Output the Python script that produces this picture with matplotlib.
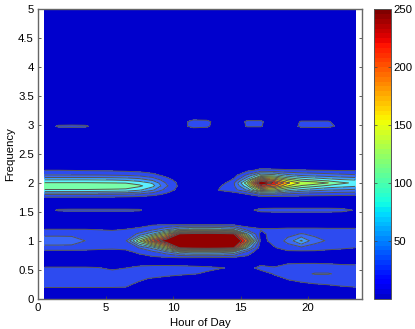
import matplotlib
matplotlib.use('Agg')
import matplotlib.pyplot as plt
import numpy as np
from matplotlib.cm import ScalarMappable
from matplotlib.colors import ListedColormap, Normalize

plt.rcParams['font.family'] = ['Liberation Sans', 'DejaVu Sans']
plt.rcParams['font.size'] = 8.2

hours = [0.5, 1.5, 2.5, 3.5, 4.5, 5.5, 6.5, 7.5, 8.5, 9.5, 10.5, 11.5,
         12.5, 13.5, 14.5, 15.5, 16.5, 17.5, 18.5, 19.5, 20.5, 21.5, 22.5, 23.5]

# amplitude per hour, one list per frequency row
f000 = [5] * 24
f010 = [8] * 24
f020 = [23, 23, 23, 23, 23, 23, 22, 18, 14, 10, 8, 8, 8, 8, 8, 8, 8, 8, 10, 14, 17, 19, 21, 22]
f035 = [30, 30, 30, 30, 30, 30, 27, 24, 21, 17, 12, 10, 8, 8, 8, 8, 8, 15, 24, 28, 30, 30, 30, 30]
f043 = [32, 32, 32, 32, 31, 30, 30, 31, 30, 28, 26, 23, 20, 14, 10, 8, 10, 24, 30, 36, 46, 46, 38, 32]
f053 = [24, 24, 24, 24, 23, 18, 22, 26, 27, 27, 27, 26, 25, 23, 20, 12, 30, 24, 28, 30, 30, 30, 28, 27]
f065 = [9, 9, 9, 9, 9, 9, 10, 12, 13, 13, 12, 11, 10, 9, 8, 8, 8, 10, 18, 18, 18, 17, 16, 16]
f072 = [9, 9, 9, 9, 9, 9, 10, 14, 20, 23, 24, 24, 24, 24, 23, 18, 8, 8, 10, 10, 10, 10, 10, 10]
f080 = [12, 12, 12, 12, 12, 12, 15, 26, 35, 55, 85, 95, 95, 92, 80, 32, 8, 10, 14, 14, 14, 14, 13, 13]
f088 = [34, 34, 34, 32, 28, 26, 28, 45, 75, 140, 245, 255, 260, 255, 245, 90, 9, 20, 35, 38, 36, 28, 25, 22]
f100 = [60, 60, 58, 44, 35, 32, 41, 130, 215, 270, 300, 300, 300, 300, 290, 205, 14, 30, 50, 92, 50, 42, 30, 28]
f112 = [36, 36, 36, 33, 29, 28, 30, 48, 85, 145, 245, 255, 260, 255, 245, 90, 15, 33, 38, 45, 40, 35, 33, 30]
f120 = [22, 22, 22, 22, 21, 20, 22, 28, 38, 58, 85, 95, 95, 92, 80, 32, 24, 24, 26, 26, 26, 25, 25, 25]
f128 = [8, 8, 8, 8, 8, 8, 8, 12, 20, 21, 21, 21, 21, 21, 18, 12, 10, 10, 10, 10, 10, 10, 10, 10]
f144 = [5] * 24
f153 = [10, 25, 26, 26, 26, 26, 26, 25, 8, 5, 5, 5, 5, 5, 6, 14, 30, 32, 32, 32, 32, 32, 30, 20]
f162 = [5] * 24
f175 = [20, 20, 20, 20, 20, 19, 18, 16, 12, 9, 7, 6, 5, 5, 5, 6, 12, 14, 14, 14, 14, 14, 14, 14]
f180 = [44, 44, 44, 44, 43, 42, 40, 36, 28, 18, 10, 6, 5, 5, 8, 20, 42, 40, 34, 30, 28, 27, 26, 25]
f184 = [80, 80, 80, 80, 78, 76, 74, 66, 48, 25, 12, 6, 5, 14, 22, 40, 90, 85, 65, 55, 50, 48, 45, 44]
f188 = [108, 108, 108, 108, 107, 106, 104, 92, 70, 35, 14, 6, 5, 25, 35, 70, 150, 135, 100, 85, 75, 68, 65, 62]
f195 = [130, 130, 130, 130, 129, 128, 128, 115, 95, 48, 16, 6, 5, 20, 40, 105, 230, 205, 155, 130, 118, 105, 98, 92]
f200 = [112, 112, 112, 112, 111, 110, 109, 100, 85, 42, 15, 6, 5, 10, 40, 130, 280, 235, 180, 150, 145, 132, 115, 105]
f205 = [90, 90, 90, 90, 89, 88, 85, 78, 62, 32, 12, 5, 5, 7, 26, 95, 220, 190, 145, 120, 110, 100, 92, 88]
f213 = [46, 46, 46, 46, 46, 45, 44, 40, 30, 16, 8, 5, 5, 5, 14, 50, 105, 100, 75, 65, 60, 56, 52, 48]
f222 = [22, 22, 21, 20, 19, 18, 16, 14, 10, 7, 5, 5, 5, 5, 8, 16, 28, 26, 24, 23, 22, 21, 20, 20]
f232 = [5] * 24
f288 = [5] * 24
f298 = [8, 25, 26, 25, 13, 5, 5, 5, 5, 5, 14, 28, 26, 8, 5, 24, 24, 5, 10, 26, 27, 27, 16, 5]
f306 = [5, 10, 10, 10, 5, 5, 5, 5, 5, 5, 10, 30, 28, 8, 5, 26, 26, 5, 8, 24, 24, 24, 10, 5]
f315 = [5] * 24
f500 = [5] * 24

freqs = [0, 0.1, 0.2, 0.35, 0.43, 0.53, 0.65, 0.72, 0.8, 0.88, 1.0, 1.12, 1.2, 1.28, 1.44, 1.53, 1.62,
         1.75, 1.8, 1.84, 1.88, 1.95, 2.0, 2.05, 2.13, 2.22, 2.32, 2.88, 2.98, 3.06, 3.15, 5]
amp = np.array([f000, f010, f020, f035, f043, f053, f065, f072, f080, f088, f100, f112, f120, f128, f144, f153, f162,
                f175, f180, f184, f188, f195, f200, f205, f213, f222, f232, f288, f298, f306, f315, f500])

levels = [0, 22, 44, 66, 88, 110, 132, 154, 176, 198, 220, 242, 400]
low_band_colors = ['#0000cd', '#2d4bf0', '#3a68f8', '#3f9cff', '#5cf0ff', '#78ffaa']
x_ticks = [0, 5, 10, 15, 20]
y_ticks = [0, 0.5, 1, 1.5, 2, 2.5, 3, 3.5, 4, 4.5, 5]
y_labels = ['0', '0.5', '1', '1.5', '2', '2.5', '3', '3.5', '4', '4.5', '5']
cbar_ticks = [50, 100, 150, 200, 250]

# the bar starts a bit above the dark end of jet
jet = matplotlib.colormaps['jet']
cmap = ListedColormap(jet(np.linspace(0.07, 1, 60)))
norm = Normalize(0, 250)
band_colors = low_band_colors + [cmap(norm(l)) for l in levels[len(low_band_colors):-1]]

W, H = 415, 329
fig = plt.figure(figsize=(W / 100, H / 100), dpi=100)
ax = fig.add_axes([38 / W, 1 - 298.7 / H, 324 / W, 289.4 / H])

ax.contourf(hours, freqs, amp, levels=levels, colors=band_colors)
ax.contour(hours, freqs, amp, levels=levels[1:-1], colors='#555555', linewidths=0.7)

ax.set_xlim(0, 24)
ax.set_ylim(0, 5)
ax.set_xticks(x_ticks)
ax.set_yticks(y_ticks)
ax.set_yticklabels(y_labels)
ax.set_xlabel('Hour of Day', labelpad=4)
ax.set_ylabel('Frequency', labelpad=2)
ax.tick_params(direction='in', length=2.5, width=0.6, pad=3, color='#444444', top=False, right=True)
for s in ax.spines.values():
    s.set_color('#666666')
    s.set_linewidth(1.0)

cax = fig.add_axes([374 / W, 1 - 298.7 / H, 16.7 / W, 289.4 / H])
cb = fig.colorbar(ScalarMappable(norm=norm, cmap=cmap), cax=cax)
cb.set_ticks(cbar_ticks)
cb.ax.tick_params(direction='in', length=2, width=0.5, pad=2, color='#444444', left=True, right=True)
cb.outline.set_edgecolor('#555555')
cb.outline.set_linewidth(0.7)

fig.savefig('out.png', dpi=100)
